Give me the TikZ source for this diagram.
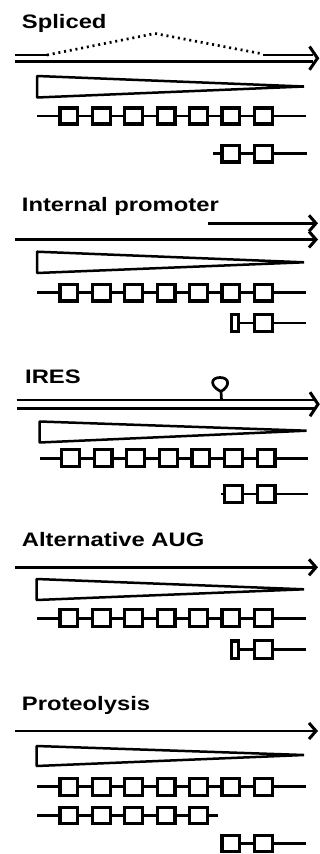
\documentclass[tikz,border=0pt]{standalone}
\usepackage{fontspec}
\setmainfont{Liberation Sans}
\usetikzlibrary{arrows.meta}
\newcommand\myboxrow[5]{%
  \foreach \i in {#3} {%
    \draw[bx] ({#2+1.6+\i*#5},{#1-#4}) rectangle ({#2+19.4+\i*#5},{#1+#4});
  }%
}
\begin{document}
\begin{tikzpicture}[x=1pt,y=-1pt,
  ln/.style={line width=2.5pt},
  bx/.style={line width=3.2pt,fill=white},
  wedgeshape/.style={line width=2.5pt,line join=bevel},
  arr/.style={line width=2.5pt,-{Straight Barb[length=7pt,width=16pt,line width=3pt]}},
  chev/.style={line width=3pt,line join=miter},
  lbl/.style={anchor=base west,inner sep=0pt,font=\bfseries\fontsize{19.5}{22}\selectfont}]
\useasboundingbox (0,0) rectangle (320,854);
\fill[white] (0,0) rectangle (320,854);
% ---------------- Spliced
\node[lbl] (t1) at (21.7,28) {\scalebox{1.22}[1]{Spliced}};
\draw[ln] (15,55) -- (47,55);
\draw[line width=2.7pt,dash pattern=on 2pt off 3.8pt] (47,55) -- (155,33.5) -- (263,54);
\draw[ln] (263,55) -- (313,55);
\draw[ln] (15,61.5) -- (313,61.5);
\draw[chev] (309.5,46.5) -- (317.5,58.2) -- (309.5,69.8);
\draw[wedgeshape] (37,76) -- (304,86.5) -- (37,97.5) -- cycle;
\draw[ln] (37,116) -- (306,116);
\myboxrow{116}{58.3}{0,1,2,3,4,5,6}{8}{32.4}
\draw[ln] (213,153.7) -- (307,153.7);
\myboxrow{153.7}{58.3}{5,6}{8.3}{32.4}
% ---------------- Internal promoter
\node[lbl] (t2) at (21.7,211.7) {\scalebox{1.22}[1]{Internal promoter}};
\draw[arr] (208,223.3) -- (318,223.3);
\draw[arr] (15,239.5) -- (318,239.5);
\draw[wedgeshape] (37,251.7) -- (304,262.3) -- (37,273) -- cycle;
\draw[ln] (37,292.7) -- (306,292.7);
\myboxrow{292.7}{58.3}{0,1,2,3,4,5,6}{8.3}{32.4}
\draw[ln] (231,323) -- (306,323);
\draw[bx] (231.6,314.5) rectangle (238.4,331.5);
\myboxrow{323}{58.3}{6}{8.5}{32.4}
% ---------------- IRES
\node[lbl] (t3) at (25,383) {\scalebox{1.22}[1]{IRES}};
\draw[ln] (16.7,400) -- (314,400);
\draw[ln] (16.7,408.3) -- (314,408.3);
\draw[chev] (310,392.2) -- (318,404.2) -- (310,416.2);
\draw[line width=2.7pt] (221.5,400) -- (221,391.5)
  .. controls (209.5,386) and (210.5,377.5) .. (220,377.5)
  .. controls (229.5,377.5) and (230.5,386) .. (221,391.5);
\draw[wedgeshape] (39.5,421.5) -- (306.5,430.7) -- (39.5,442.5) -- cycle;
\draw[ln] (40,458.3) -- (308,458.3);
\myboxrow{458.3}{60}{0,1,2,3,4,5,6}{8.5}{32.6}
\draw[ln] (221,494) -- (308,494);
\myboxrow{494}{60}{5,6}{8.5}{32.6}
% ---------------- Alternative AUG
\node[lbl] (t4) at (21.7,546.7) {\scalebox{1.22}[1]{Alternative AUG}};
\draw[arr] (15,567.3) -- (318,567.3);
\draw[wedgeshape] (36.5,579) -- (304,589.3) -- (36.5,600) -- cycle;
\draw[ln] (37,618.3) -- (306,618.3);
\myboxrow{618.3}{58.3}{0,1,2,3,4,5,6}{8.5}{32.4}
\draw[ln] (231,649.5) -- (306,649.5);
\draw[bx] (231.6,641) rectangle (238.4,658.5);
\myboxrow{649.5}{58.3}{6}{8.8}{32.4}
% ---------------- Proteolysis
\node[lbl] (t5) at (21.7,710.7) {\scalebox{1.22}[1]{Proteolysis}};
\draw[arr] (15,731) -- (318,731);
\draw[wedgeshape] (36.5,746) -- (304,755) -- (36.5,766) -- cycle;
\draw[ln] (37,786.7) -- (306,786.7);
\myboxrow{786.7}{58.3}{0,1,2,3,4,5,6}{8.5}{32.4}
\draw[ln] (37,815.5) -- (218,815.5);
\myboxrow{815.5}{58.3}{0,1,2,3,4}{8.3}{32.4}
\draw[ln] (222,843.5) -- (306,843.5);
\myboxrow{843.5}{58.3}{5,6}{8.3}{32.4}
\end{tikzpicture}
\end{document}
